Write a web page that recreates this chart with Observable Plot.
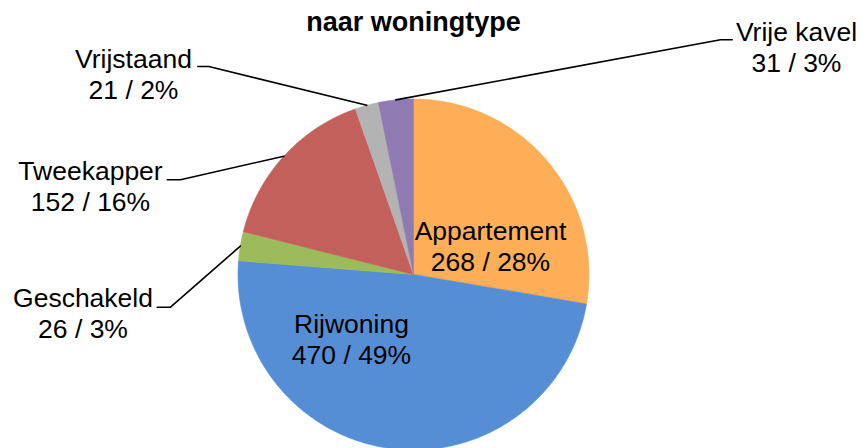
<!DOCTYPE html>
<html><head><meta charset="utf-8">
<script src="https://cdn.jsdelivr.net/npm/d3@7"></script>
<script src="https://cdn.jsdelivr.net/npm/@observablehq/plot@0.6"></script>
<style>html,body{margin:0;padding:0;background:#fff;overflow:hidden}</style>
</head><body><div id="chart"></div>
<script>
// ---- data ----
const categories = ["Appartement", "Rijwoning", "Geschakeld", "Tweekapper", "Vrijstaand", "Vrije kavel"];
const values = [268, 470, 26, 152, 21, 31];
const colors = ["#FDAE57", "#558ED5", "#9CBB5A", "#C4605C", "#B3B3B3", "#8F7BB2"];
const title = "naar woningtype";

// ---- layout (pixels) ----
const W = 863, H = 448, cx = 413, cy = 274, R = 175.5;
const FONT = "'Liberation Sans', Arial, sans-serif";
const labelLayout = {
  "Appartement": {x: 490, y: 270},
  "Rijwoning":   {x: 351, y: 363},
  "Geschakeld":  {x: 82.5, y: 337, elbowX: 170, elbowY: 306.7, endX: 156.7},
  "Tweekapper":  {x: 90, y: 210, elbowX: 180, elbowY: 179.3, endX: 166.7},
  "Vrijstaand":  {x: 133, y: 98, elbowX: 208.3, elbowY: 66, endX: 197.3},
  "Vrije kavel": {x: 796, y: 71, elbowX: 720, elbowY: 39.3, endX: 731.7}
};

const total = d3.sum(values);
const rows = categories.map((name, i) => ({name, value: values[i], color: colors[i]}));
const arcs = d3.pie().sort(null).value(d => d.value)(rows);
const pt = (a, r) => ({x: cx + r * Math.sin(a), y: cy - r * Math.cos(a)});

const sliceMarks = arcs.map(a => {
  const pts = [pt(0, 0)];
  const n = Math.max(2, Math.ceil((a.endAngle - a.startAngle) / (Math.PI / 360)));
  for (let k = 0; k <= n; k++) pts.push(pt(a.startAngle + (a.endAngle - a.startAngle) * k / n, R));
  pts.push(pt(0, 0));
  return Plot.line(pts, {x: "x", y: "y", fill: a.data.color, stroke: a.data.color, strokeWidth: 0.6, curve: "linear"});
});

const leaderMarks = arcs.filter(a => labelLayout[a.data.name].elbowX !== undefined).map(a => {
  const L = labelLayout[a.data.name];
  const mid = (a.startAngle + a.endAngle) / 2;
  const e = pt(mid, R);
  return Plot.line([e, {x: L.elbowX, y: L.elbowY}, {x: L.endX, y: L.elbowY}],
    {x: "x", y: "y", stroke: "#000", strokeWidth: 1.6});
});

const labels = rows.map(d => ({
  x: labelLayout[d.name].x,
  y: labelLayout[d.name].y,
  text: `${d.name}\n${d.value} / ${Math.round(d.value / total * 100)}%`
}));

const chart = Plot.plot({
  width: W, height: H, margin: 0,
  style: {fontFamily: FONT, background: "#fff", overflow: "visible"},
  x: {domain: [0, W], range: [0, W], axis: null},
  y: {domain: [0, H], range: [0, H], axis: null},
  marks: [
    ...sliceMarks,
    ...leaderMarks,
    Plot.text(labels, {x: "x", y: "y", text: "text", lineAnchor: "bottom", lineHeight: 1.15,
      fontSize: 26.5, fill: "#000", textAnchor: "middle"}),
    Plot.text([title], {frameAnchor: "top", dx: cx - W / 2, dy: 30.7, lineAnchor: "bottom",
      fontSize: 27, fontWeight: "bold", fill: "#000"})
  ]
});
document.getElementById("chart").appendChild(chart);
</script>
</body></html>
